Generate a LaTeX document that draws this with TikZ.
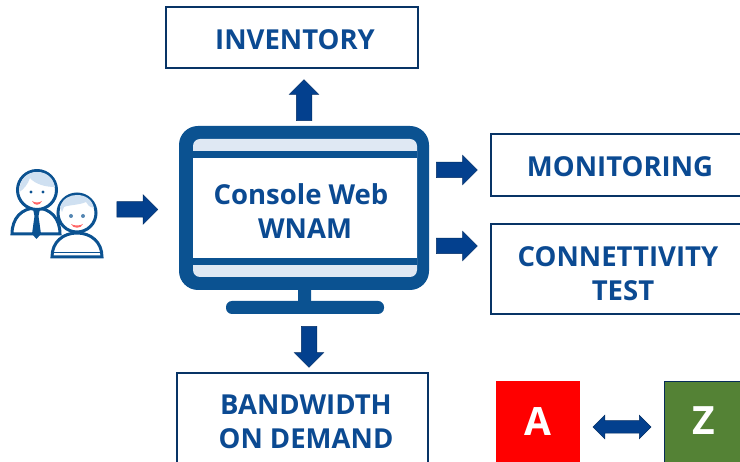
\documentclass[tikz,border=0pt]{standalone}
\usepackage{fontspec}
\setmainfont{Open Sans}
\usepackage{tikz}
\usetikzlibrary{shapes.arrows}
\definecolor{wnamblue}{HTML}{0B5291}
\definecolor{wnamtext}{HTML}{0B4A92}
\definecolor{wnamarrow}{HTML}{03408E}
\definecolor{wnamlight}{HTML}{DFE8F3}
\definecolor{wnamhair}{HTML}{CFE0F1}
\definecolor{wnamgreen}{HTML}{548235}
\tikzset{
  labelbox/.style={draw=wnamtext!70!black,line width=1.3pt,fill=white},
  boxtext/.style={text=wnamtext,font=\bfseries\fontsize{27.5}{34}\selectfont,align=center,inner sep=0pt},
  blockarrow/.style={single arrow,draw=wnamarrow!70!black,line width=0.5pt,fill=wnamarrow,inner xsep=0pt,inner ysep=7.5pt,
    minimum height=41pt,single arrow head extend=7pt,single arrow head indent=0pt},
  twoarrow/.style={double arrow,draw=wnamarrow!70!black,line width=0.5pt,fill=wnamarrow,inner xsep=0pt,inner ysep=6pt,
    minimum height=58pt,double arrow head extend=5.5pt,double arrow head indent=0pt},
  userline/.style={draw=wnamblue,line width=3pt,fill=white},
  letterbox/.style={text=white,font=\bfseries\fontsize{39}{39}\selectfont,inner sep=0pt},
}
\begin{document}
\begin{tikzpicture}[x=1pt,y=-1pt]
  \useasboundingbox (0,0) rectangle (740,462);
  % boxes
  \draw[labelbox] (166,7) rectangle (418,68);
  \draw[labelbox] (491,134) rectangle (745,196);
  \draw[labelbox] (491,224) rectangle (745,314);
  \draw[labelbox] (177,373) rectangle (428,470);
  \node[boxtext] (inventory) at (295,40) {INVENTORY};
  \node[boxtext] (monitoring) at (620,167) {MONITORING};
  \node[boxtext] (conntest) at (618,274) {CONNETTIVITY\\\hspace{10pt}TEST};
  \node[boxtext] (bandwidth) at (306,422) {BANDWIDTH\\ON DEMAND};
  % monitor
  \draw[fill=wnamblue,draw=none,rounded corners=2] (298,285) rectangle (311,305);
  \draw[fill=wnamblue,draw=none,rounded corners=6] (226,301) rectangle (384,314);
  \draw[fill=wnamblue,draw=none,rounded corners=19] (179,126) rectangle (429,290);
  \draw[fill=wnamlight,draw=none,rounded corners=7] (193,139) rectangle (417,277);
  \draw[fill=wnamblue,draw=none] (193,151) rectangle (417,158);
  \draw[fill=wnamblue,draw=none] (193,258) rectangle (417,265);
  \draw[fill=white,draw=none] (193,158) rectangle (417,258);
  \node[boxtext] (console) at (301,211) {Console Web\\\hspace{8pt}WNAM};
  % arrows
  \node[blockarrow,rotate=90] (arrowinv) at (304,104) {};
  \node[blockarrow] (arrowuser) at (133.5,209.5) {};
  \node[blockarrow] (arrowmon) at (453,170) {};
  \node[blockarrow] (arrowtest) at (453,246) {};
  \node[blockarrow,rotate=-90] (arrowbw) at (309,343) {};
  \node[twoarrow] (arrowaz) at (622,427) {};
  % A and Z
  \node[fill=red,minimum width=84pt,minimum height=81pt,anchor=north west,letterbox] (nodea) at (496,381) {A};
  \draw[fill=wnamgreen,draw=wnamtext!60!black,line width=1pt] (664,382) rectangle (745,470);
  \node[letterbox] (nodez) at (704,421) {Z};
  % users
  \begin{scope}
    \clip (0,170) rectangle (120,270);
    \draw[userline] (12,234) .. controls (12,218) and (22,208) .. (36,208)
      .. controls (50,208) and (60,218) .. (60,234) -- cycle;
    \draw[fill=wnamblue,draw=none] (33,209) -- (40,209) -- (38.5,216) -- (41,234) -- (36.5,239) -- (32,234) -- (34.5,216) -- cycle;
    \draw[userline] (37,190) circle [radius=19.5];
    \draw[fill=wnamhair,draw=none] (19.5,192) .. controls (19,178) and (28,172) .. (37,172)
      .. controls (46,172) and (53,177) .. (55,187) .. controls (45,187) and (35,184) .. (30,178)
      .. controls (28,184) and (24,189) .. (19.5,192) -- cycle;
    \fill[wnamblue] (31,192) circle [radius=1.7];
    \fill[wnamblue] (43,192) circle [radius=1.7];
    \fill[red!60] (32,201) .. controls (35,203) and (39,203) .. (42,201) .. controls (40,206) and (34,206) .. (32,201) -- cycle;
    \draw[userline] (52,257) .. controls (52,242) and (63,233) .. (77,233)
      .. controls (91,233) and (102,242) .. (102,257) -- cycle;
    \draw[draw=wnamblue,line width=1pt] (53,253) -- (101,253);
    \draw[userline] (77,213) circle [radius=19];
    \draw[fill=wnamhair,draw=none] (60,207) .. controls (63,198) and (70,195) .. (77,195)
      .. controls (85,195) and (92,199) .. (94,208) .. controls (88,207) and (88,204) .. (86,202)
      .. controls (80,205) and (68,205) .. (64,207) -- (62,212) -- cycle;
    \fill[wnamblue!70] (71,216) circle [radius=2];
    \fill[wnamblue!70] (83,216) circle [radius=2];
    \fill[red!60] (71,224) .. controls (74,226) and (80,226) .. (83,224) .. controls (81,229) and (73,229) .. (71,224) -- cycle;
  \end{scope}
\end{tikzpicture}
\end{document}
